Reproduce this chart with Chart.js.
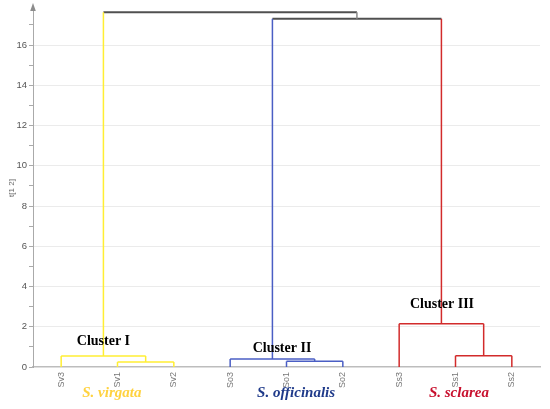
<!DOCTYPE html>
<html><head><meta charset="utf-8">
<script src="https://cdn.jsdelivr.net/npm/chart.js@4"></script>
<style>html,body{margin:0;padding:0;background:#fff}#w{width:550px;height:409px}</style>
</head><body><div id="w"><canvas id="c"></canvas></div>
<script>
// ---- data ----
const leaves = ['Sv3','Sv1','Sv2','So3','So1','So2','Ss3','Ss1','Ss2'];
const leafCluster = [0,0,0,1,1,1,2,2,2];
const clusterNames = ['Cluster I','Cluster II','Cluster III'];
const speciesNames = ['S. virgata','S. officinalis','S. sclarea'];
// linkage: nodes 0..8 are leaves, merge k creates node 9+k
const mergeLeft   = [1, 0, 4, 3, 7, 6, 12, 10];
const mergeRight  = [2, 9, 5, 11, 8, 13, 14, 15];
const mergeHeight = [0.25, 0.55, 0.28, 0.40, 0.56, 2.15, 17.30, 17.63];
const yTicks = [0,1,2,3,4,5,6,7,8,9,10,11,12,13,14,15,16,17];

// ---- styling / placement (not data) ----
const clusterColors = ['#FFEE33','#4A5EC4','#D22B2B'];
const speciesColors = ['#FFD23F','#1F3A8A','#C8102E'];
const mixColor = '#505050';
const clusterLabelPos = [[1.25,1.29],[4.42,0.94],[7.26,3.13]];
const speciesLabelX = [1.40,4.67,7.56];

// build dendrogram geometry from linkage
const nLeaf = leaves.length;
const nodeX = [], nodeH = [], nodeCl = [], parent = [];
for (let i=0;i<nLeaf;i++){ nodeX[i]=i+0.5; nodeH[i]=0; nodeCl[i]=leafCluster[i]; }
mergeHeight.forEach((h,k)=>{
  const id=nLeaf+k, a=mergeLeft[k], b=mergeRight[k];
  nodeX[id]=(nodeX[a]+nodeX[b])/2; nodeH[id]=h;
  nodeCl[id]=(nodeCl[a]===nodeCl[b])?nodeCl[a]:-1;
  parent[a]=id; parent[b]=id;
});
const colOf = c => c<0?mixColor:clusterColors[c];
const datasets=[];
for (let id=0; id<nodeX.length; id++){
  if (parent[id]===undefined) continue;
  const p=parent[id];
  datasets.push({data:[{x:nodeX[id],y:nodeH[id]},{x:nodeX[id],y:nodeH[p]}],
    borderColor: nodeCl[id]<0 ? '#8a8a8a' : colOf(nodeCl[id])});
}
mergeHeight.forEach((h,k)=>{
  const a=mergeLeft[k], b=mergeRight[k], id=nLeaf+k;
  datasets.push({data:[{x:nodeX[a],y:h},{x:nodeX[b],y:h}], borderColor: colOf(nodeCl[id]),
    borderWidth: nodeCl[id]<0?2:1.5});
});
datasets.forEach(d=>{ d.showLine=true; d.pointRadius=0; d.fill=false; if(!d.borderWidth) d.borderWidth=1.5; });

const textPlugin = {
  id:'texts',
  afterDraw(chart){
    const ctx=chart.ctx, xs=chart.scales.x, ys=chart.scales.y, ca=chart.chartArea;
    ctx.save();
    // arrow on y axis
    ctx.fillStyle='#8c8c8c';
    ctx.beginPath(); ctx.moveTo(ca.left,3); ctx.lineTo(ca.left-2.8,11); ctx.lineTo(ca.left+2.8,11); ctx.closePath(); ctx.fill();
    ctx.strokeStyle='#aaa'; ctx.lineWidth=1; ctx.beginPath(); ctx.moveTo(ca.left,ca.top); ctx.lineTo(ca.left,8); ctx.stroke();
    // y title
    ctx.save(); ctx.translate(12,188); ctx.rotate(-Math.PI/2);
    ctx.font='8px "Liberation Sans", sans-serif'; ctx.fillStyle='#666'; ctx.textAlign='center'; ctx.textBaseline='middle';
    ctx.fillText('t[1 2]',0,0); ctx.restore();
    // cluster labels
    ctx.font='bold 14px "Liberation Serif", serif'; ctx.fillStyle='#000'; ctx.textAlign='center'; ctx.textBaseline='middle';
    clusterNames.forEach((n,i)=>{
      ctx.fillText(n, xs.getPixelForValue(clusterLabelPos[i][0]), ys.getPixelForValue(clusterLabelPos[i][1]));
    });
    // species labels
    ctx.font='italic bold 15px "Liberation Serif", serif';
    speciesNames.forEach((n,i)=>{
      ctx.fillStyle=speciesColors[i];
      ctx.fillText(n, xs.getPixelForValue(speciesLabelX[i]), ca.bottom+26);
    });
    ctx.restore();
  }
};

new Chart(document.getElementById('c'), {
  type:'scatter',
  data:{datasets},
  plugins:[textPlugin],
  options:{
    responsive:true, maintainAspectRatio:false, animation:false,
    layout:{padding:{top:8,right:10,left:0,bottom:0}},
    plugins:{legend:{display:false}, tooltip:{enabled:false}},
    scales:{
      x:{type:'linear', min:0, max:nLeaf,
        afterBuildTicks:s=>{ s.ticks=leaves.map((_,i)=>({value:i+0.5})); },
        afterFit:s=>{ s.height=42; },
        ticks:{autoSkip:false, minRotation:90, maxRotation:90, padding:-3,
          font:{family:'"Liberation Sans", sans-serif', size:9}, color:'#777',
          callback:v=>leaves[Math.round(v-0.5)]},
        grid:{display:false},
        border:{display:true, color:'#bdbdbd', width:1.5}
      },
      y:{type:'linear', min:0, max:17.84,
        afterBuildTicks:s=>{ s.ticks=yTicks.map(v=>({value:v})); },
        afterFit:s=>{ s.width=33; },
        ticks:{autoSkip:false, padding:2, font:{family:'"Liberation Sans", sans-serif', size:9.5}, color:'#555',
          callback:v=>(v%2===0?String(v):'')},
        grid:{color:c=>(c.tick && c.tick.value%2===0 && c.tick.value>0)?'#ebebeb':'rgba(0,0,0,0)',
          tickColor:'#aaa', tickLength:4, lineWidth:1},
        border:{display:true, color:'#aaa', width:1}
      }
    }
  }
});
</script></body></html>
